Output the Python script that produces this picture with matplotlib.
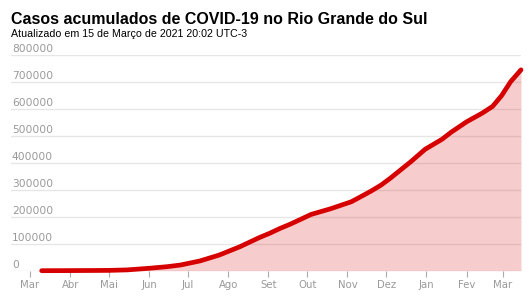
import pandas as pd
import numpy as np
import matplotlib
matplotlib.use('Agg')
import matplotlib.pyplot as plt

# casos acumulados
datas = ['2020-03-10', '2020-04-01', '2020-04-15', '2020-05-01', '2020-05-15',
         '2020-06-01', '2020-06-15', '2020-06-25', '2020-07-10', '2020-07-25',
         '2020-08-10', '2020-08-25', '2020-09-02', '2020-09-10', '2020-09-18',
         '2020-09-30', '2020-10-04', '2020-10-19', '2020-11-04', '2020-11-11',
         '2020-11-19', '2020-11-27', '2020-12-04', '2020-12-20', '2020-12-31',
         '2021-01-13', '2021-01-20', '2021-01-28', '2021-02-01', '2021-02-13',
         '2021-02-21', '2021-02-28', '2021-03-07', '2021-03-15']
casos = [1, 400, 700, 1200, 3000,
         9000, 15000, 21000, 36000, 58000,
         89000, 123000, 139000, 157000, 173000,
         200000, 209000, 230000, 256000, 274000,
         295000, 318000, 343000, 405000, 451000,
         488000, 514000, 540000, 553000, 585000,
         610000, 650000, 702000, 746000]

meses = ['Mar', 'Abr', 'Mai', 'Jun', 'Jul', 'Ago', 'Set', 'Out', 'Nov', 'Dez', 'Jan', 'Fev', 'Mar']
meses_datas = pd.date_range('2020-03-01', '2021-03-01', freq='MS')
y_ticks = [0, 100000, 200000, 300000, 400000, 500000, 600000, 700000, 800000]

titulo = 'Casos acumulados de COVID-19 no Rio Grande do Sul'
subtitulo = 'Atualizado em 15 de Março de 2021 20:02 UTC-3'

vermelho = '#d60000'
cinza = '#999999'

datas = pd.to_datetime(datas)

fig = plt.figure(figsize=(5.32, 2.99), dpi=100)
ax = fig.add_axes([11/532, 1-270.7/299, 510/532, (270.7-55.3)/299])

ax.fill_between(datas, casos, 0, color=vermelho, alpha=0.2, lw=0, zorder=2)
ax.plot(datas, casos, color=vermelho, lw=3.4, solid_capstyle='round',
        solid_joinstyle='round', clip_on=False, zorder=3)

ax.set_xlim(pd.Timestamp('2020-02-15 08:00'), datas[-1])
ax.set_ylim(0, 800000)

# grade e rótulos do eixo y
ax.set_yticks(y_ticks)
ax.yaxis.grid(True, color='#e6e6e6', lw=1, zorder=1)
ax.tick_params(axis='y', length=0, labelleft=False)
for v in y_ticks:
    ax.annotate(str(v), xy=(0, v), xycoords=('axes fraction', 'data'),
                xytext=(1, 3), textcoords='offset pixels',
                ha='left', va='baseline', fontsize=7.7, color=cinza)

ax.set_xticks(meses_datas)
ax.set_xticklabels(meses)
ax.tick_params(axis='x', length=4, color='#aaaaaa', labelcolor=cinza, labelsize=7.3, pad=3)

for s in ax.spines.values():
    s.set_visible(False)

fig.text(11/532, 1-24/299, titulo, fontsize=11.55, weight='bold', family='Liberation Sans', va='baseline')
fig.text(11/532, 1-36.7/299, subtitulo, fontsize=7.7, family='Liberation Sans', va='baseline')

fig.savefig('out.png', dpi=100, facecolor='white')
